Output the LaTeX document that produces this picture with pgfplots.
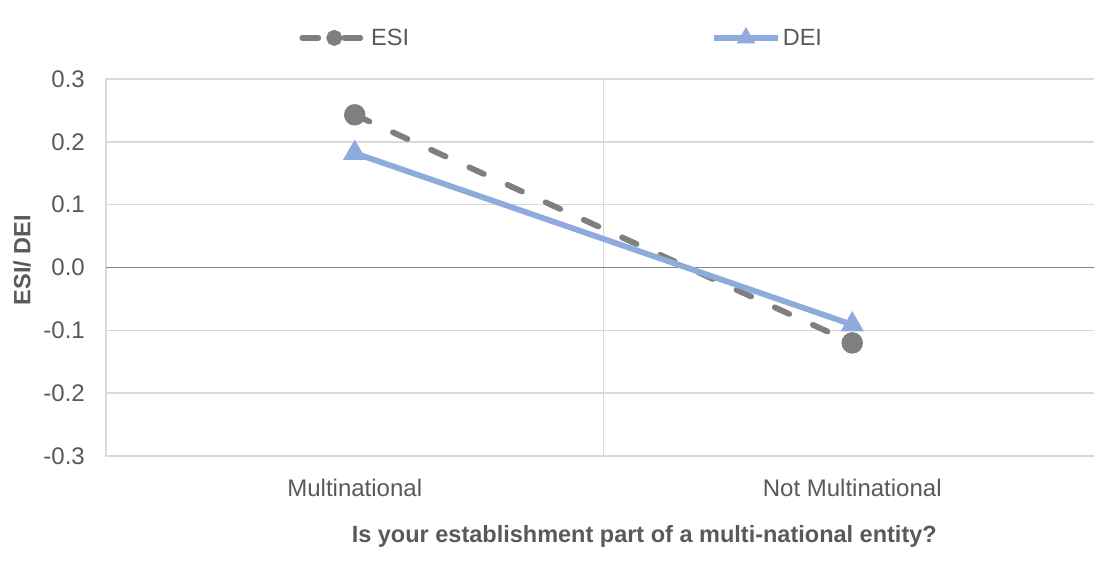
\documentclass[border=0pt]{standalone}
\usepackage{pgfplots}
\pgfplotsset{compat=1.18}
\usepackage{fontspec}
\setmainfont{Liberation Sans}

\definecolor{txtgray}{HTML}{595959}
\definecolor{gridgray}{HTML}{D9D9D9}
\definecolor{zerogray}{HTML}{868686}
\definecolor{esigray}{HTML}{7F7F7F}
\definecolor{deiblue}{HTML}{8FAADC}

\begin{document}
\begin{tikzpicture}
\useasboundingbox (-106bp,-110bp) rectangle (988bp,456bp);
\begin{axis}[
  scale only axis,
  width=995bp, height=377bp,
  xmin=-0.5, xmax=1.5,
  ymin=-0.3, ymax=0.3,
  xtick={0,1},
  xticklabels={Multinational, Not Multinational},
  ytick={-0.3,-0.2,-0.1,0,0.1,0.2,0.3},
  yticklabels={-0.3,-0.2,-0.1,0.0,0.1,0.2,0.3},
  major tick length=0pt,
  ymajorgrids,
  major grid style={draw=gridgray, line width=1.5bp},
  extra x ticks={0.5},
  extra x tick labels={},
  extra x tick style={xmajorgrids=true, major grid style={draw=gridgray, line width=1.5bp}},
  extra y ticks={0},
  extra y tick labels={},
  extra y tick style={major grid style={draw=zerogray, line width=1.5bp}},
  axis line style={draw=gridgray, line width=1.5bp},
  tick label style={font=\fontsize{24bp}{28bp}\selectfont, text=txtgray},
  xticklabel style={anchor=center, yshift=-32bp},
  yticklabel style={anchor=east, inner sep=0pt, xshift=-21bp},
  xlabel={Is your establishment part of a multi-national entity?},
  ylabel={ESI/ DEI},
  label style={font=\bfseries\fontsize{23.5bp}{28bp}\selectfont, text=txtgray},
  xlabel style={at={(axis description cs:0.541,-0.212)}, anchor=center},
  ylabel style={at={(axis description cs:-0.0844,0.52)}, anchor=center},
  legend columns=2,
  legend style={
    at={(axis description cs:0.458,1.109)}, anchor=center,
    draw=none, fill=none,
    font=\fontsize{23.5bp}{28bp}\selectfont, text=txtgray,
    /tikz/every even column/.append style={column sep=300bp},
  },
  legend image code/.code={
    \draw[#1, mark repeat=2, mark phase=2, mark size=5bp]
      plot coordinates {(0bp,0bp) (32bp,0bp) (64bp,0bp)};
  },
  clip=false,
]
% Employee satisfaction index
\addplot[color=esigray, line width=5.8bp, line cap=round,
  dash pattern=on 16bp off 26bp,
  mark=*, mark size=7.8bp, mark options={solid, fill=esigray, draw=esigray}]
  coordinates {(0,0.243) (1,-0.12)};
\addlegendentry{ESI}
% Diversity and equity index
\addplot[color=deiblue, line width=5.8bp,
  mark=triangle*, mark size=7.8bp, mark options={solid, fill=deiblue, draw=deiblue}]
  coordinates {(0,0.182) (1,-0.091)};
\addlegendentry{DEI}
\end{axis}
\end{tikzpicture}
\end{document}
